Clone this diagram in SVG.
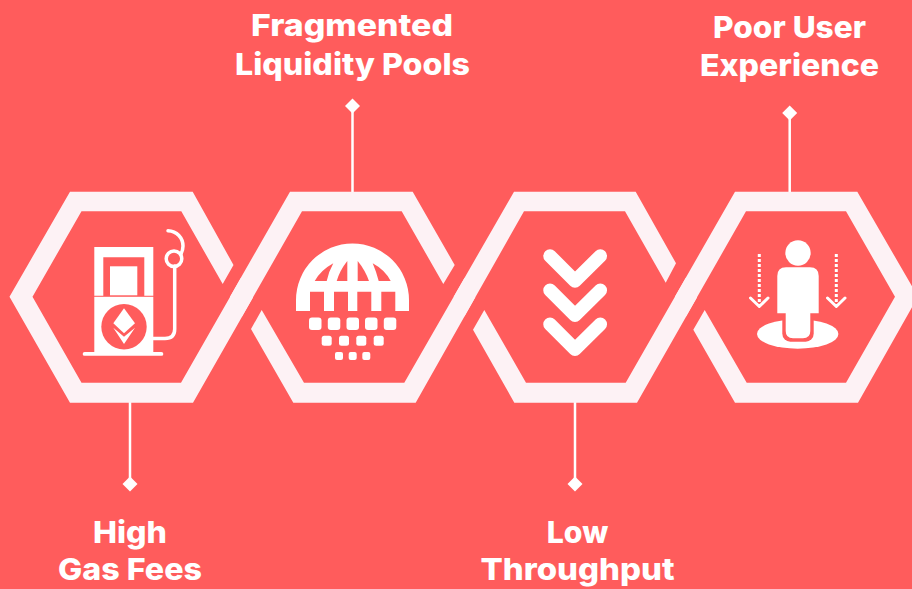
<svg xmlns="http://www.w3.org/2000/svg" width="912" height="589" viewBox="0 0 912 589">
<style>
.rib{fill:#fdf2f5}
.ic{fill:#fff}
.red{fill:#ff5c5c}
.ln{fill:none;stroke:#fff;stroke-linecap:round;stroke-linejoin:round}
.chev{fill:none;stroke:#fff;stroke-width:13.5;stroke-linecap:round;stroke-linejoin:round}
.stem{stroke:#fff;stroke-width:2.500;fill:none}
.dia{fill:#fff}
.lab{font-family:"Inter","Liberation Sans",sans-serif;font-weight:800;font-size:30px;fill:#fff;text-anchor:middle}
</style>
<rect width="912" height="589" fill="#ff5c5c"/>
<g id="connectors">
<path class="stem" d="M130 402V484"/><polygon class="dia" points="130,476.500 137.500,484 130,491.500 122.500,484"/>
<path class="stem" d="M352.500 192V106"/><polygon class="dia" points="352.500,98.500 360,106 352.500,113.500 345,106"/>
<path class="stem" d="M575 402V484"/><polygon class="dia" points="575,476.500 582.500,484 575,491.500 567.500,484"/>
<path class="stem" d="M789.700 192V113"/><polygon class="dia" points="789.700,105.500 797.200,113 789.700,120.500 782.200,113"/>
</g>
<g id="node-high-gas-fees">
<polygon class="rib" points="233.500,265 192.700,191.700 70,191.700 9.500,296.700 70,402.700 193,402.700 253,297.400 241,277.700 181,382.700 81.500,382.700 32.500,296.700 81.500,211.300 181.300,211.300 222.700,284"/>
<path class="ic" d="M94.300 247H153.300V295.700H144.300V257.300H103.300V295.700H94.300Z"/>
<rect class="ic" x="110" y="266.300" width="27.300" height="29"/>
<rect class="ic" x="94.300" y="296.800" width="59" height="57"/>
<rect class="ic" x="82.700" y="352" width="80.600" height="3.800" rx="1.900"/>
<circle class="red" cx="124" cy="326.700" r="22.700"/>
<polygon class="ic" points="124,308.300 135,323.300 124,333.300 113.300,323.300"/>
<polygon class="ic" points="113.300,327.700 124,336.700 135,327.700 124,344"/>
<path class="ln" stroke-width="3.500" d="M153.300 338.500H165Q174.700 338.500 174.700 329V266"/>
<circle cx="174" cy="258.700" r="7.800" fill="none" stroke="#fff" stroke-width="3.500"/>
<path class="ln" stroke-width="3.500" d="M168 230.700C177 231 183 238 183 246Q183 250 181 254"/>
<text class="lab" x="130" y="542.700" textLength="74" lengthAdjust="spacingAndGlyphs">High</text>
<text class="lab" x="130" y="580" textLength="144" lengthAdjust="spacingAndGlyphs">Gas Fees</text>
</g>
<g id="node-fragmented-liquidity-pools">
<polygon class="rib" points="242,316.600 302,211.300 401.700,211.300 443.300,284 454.700,265 412.700,191.700 290,191.700 230,296.700"/>
<polygon class="rib" points="261.700,310 304,382.700 404.300,382.700 464.600,277.700 475.300,297.300 415.700,402.700 293.300,402.700 251,329"/>
<path class="ic" d="M296 311V300A56.500 56.500 0 0 1 409 300V311H395.300V291.700H381.300V311H371.300V291.700H357.300V311H348V291.700H334V311H324V291.700H310V311Z"/>
<path class="red" d="M314.700 281Q321 270 333.300 263.300Q329 271 326.700 281Z"/>
<path class="red" d="M336.700 281Q340 270 347.300 261V281Z"/>
<path class="red" d="M357.700 261Q365 270 369 281H357.700Z"/>
<path class="red" d="M372.700 263.300Q385 270 390.700 281H378.700Q376 271 372.700 263.300Z"/>
<g class="ic">
<rect x="309" y="317.500" width="12.500" height="12.500" rx="3"/><rect x="327.800" y="317.500" width="12.500" height="12.500" rx="3"/><rect x="346.500" y="317.500" width="12.500" height="12.500" rx="3"/><rect x="365" y="317.500" width="12.500" height="12.500" rx="3"/><rect x="383.800" y="317.500" width="12.500" height="12.500" rx="3"/>
<rect x="321.700" y="335.700" width="10" height="10" rx="2.500"/><rect x="339" y="335.700" width="10" height="10" rx="2.500"/><rect x="356.300" y="335.700" width="10" height="10" rx="2.500"/><rect x="373.700" y="335.700" width="10" height="10" rx="2.500"/>
<rect x="335" y="352" width="8" height="8" rx="2"/><rect x="348.700" y="352" width="8" height="8" rx="2"/><rect x="362.300" y="352" width="8" height="8" rx="2"/>
</g>
<text class="lab" x="352" y="36" textLength="202" lengthAdjust="spacingAndGlyphs">Fragmented</text>
<text class="lab" x="352.500" y="75" textLength="235" lengthAdjust="spacingAndGlyphs">Liquidity Pools</text>
</g>
<g id="node-low-throughput">
<polygon class="rib" points="464.400,316.600 524,211.300 625,211.300 665.700,282.700 676,263.300 635.700,191.700 514,191.700 453.700,296.700"/>
<polygon class="rib" points="484.300,310 526,382.700 625.700,382.700 685.800,277.700 697,297.400 637,402.700 514.300,402.700 473,329.700"/>
<path class="chev" d="M550 256L575 281L600.300 256"/>
<path class="chev" d="M550 290.300L575 315.300L600.300 290.300"/>
<path class="chev" d="M550 324.300L575 349.300L600.300 324.300"/>
<text class="lab" x="577.500" y="542.700" textLength="61.500" lengthAdjust="spacingAndGlyphs">Low</text>
<text class="lab" x="577.500" y="580" textLength="194" lengthAdjust="spacingAndGlyphs">Throughput</text>
</g>
<g id="node-poor-user-experience">
<polygon class="rib" points="674.900,296.700 735,191.700 857.300,191.700 918,296.700 858,402.700 735,402.700 693.300,329.700 704.700,310 746.700,382.700 846,382.700 895,296.700 846,211.300 746,211.300 686,316.600"/>
<ellipse class="ic" cx="797.700" cy="334" rx="40.700" ry="14.700"/>
<rect class="red" x="782.300" y="312" width="31.400" height="29.700" rx="8"/>
<circle class="ic" cx="798" cy="253" r="12.700"/>
<path class="ic" d="M777.300 313.300V276Q777.300 267.300 786 267.300H810Q818.700 267.300 818.700 276V313.300H810.300V331Q810.300 338.300 803 338.300H793Q785.700 338.300 785.700 331V313.300Z"/>
<path d="M759.300 254V303M836.300 254V303" fill="none" stroke="#fff" stroke-width="3" stroke-dasharray="3 2"/>
<path class="ln" stroke-width="3" d="M750.500 298L759.300 306.500L768 298M827.500 298L836.300 306.500L845 298"/>
<text class="lab" x="789.500" y="38" textLength="153" lengthAdjust="spacingAndGlyphs">Poor User</text>
<text class="lab" x="789.500" y="76" textLength="179" lengthAdjust="spacingAndGlyphs">Experience</text>
</g>
</svg>
